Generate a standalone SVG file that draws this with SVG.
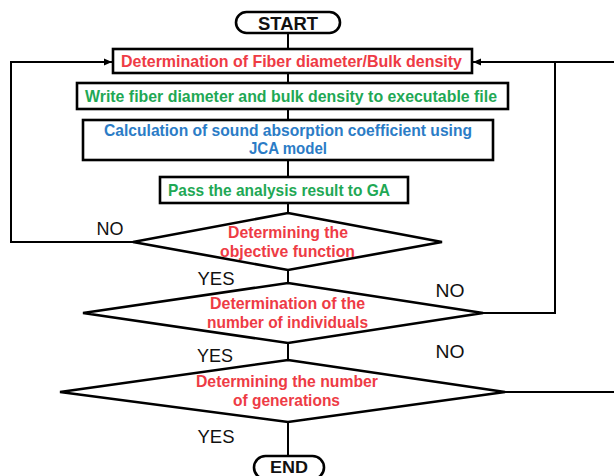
<svg xmlns="http://www.w3.org/2000/svg" width="614" height="476" viewBox="0 0 614 476">
  <style>
    .shape { fill: #ffffff; stroke: #000000; stroke-width: 2.6; }
    .conn { fill: none; stroke: #000000; stroke-width: 2; }
    .t { font-family: "Liberation Sans", Arial, sans-serif; font-weight: bold; text-anchor: middle; }
    .box { font-size: 16.5px; }
    .dia { font-size: 16px; }
    .red { fill: #ee3b45; }
    .green { fill: #1fa855; }
    .blue { fill: #2b7cc6; }
    .term { font-size: 19px; fill: #111111; }
    .lbl { font-family: "Liberation Sans", Arial, sans-serif; font-size: 18.5px; fill: #111111; text-anchor: middle; }
  </style>
  <defs>
    <marker id="arrow" markerUnits="userSpaceOnUse" markerWidth="8" markerHeight="8" refX="8" refY="4" orient="auto">
      <path d="M0,0.5 L8,4 L0,7.5 z" fill="#000000"/>
    </marker>
  </defs>
  <rect width="614" height="476" fill="#ffffff"/>

  <g id="connectors">
    <line class="conn" x1="288" y1="33" x2="288" y2="49"/>
    <line class="conn" x1="288" y1="73" x2="288" y2="83"/>
    <line class="conn" x1="288" y1="109" x2="288" y2="120"/>
    <line class="conn" x1="288" y1="160" x2="288" y2="177"/>
    <line class="conn" x1="288" y1="203" x2="288" y2="213"/>
    <line class="conn" x1="288" y1="270" x2="288" y2="283"/>
    <line class="conn" x1="288" y1="343" x2="288" y2="360"/>
    <line class="conn" x1="288" y1="422" x2="288" y2="456"/>
    <polyline class="conn" points="133,242 11,242 11,62 112,62" marker-end="url(#arrow)"/>
    <polyline class="conn" points="483,313 555,313 555,62"/>
    <polyline class="conn" points="614,62 473,62" marker-end="url(#arrow)"/>
    <line class="conn" x1="505" y1="392" x2="614" y2="392"/>
  </g>

  <g id="start">
    <rect class="shape" x="236" y="12" width="104" height="21" rx="10.5"/>
    <text class="t term" x="288" y="29.5" textLength="60" lengthAdjust="spacingAndGlyphs">START</text>
  </g>

  <g id="box1">
    <rect class="shape" x="113" y="49" width="359" height="24"/>
    <text class="t box red" x="291.5" y="66.5" textLength="341" lengthAdjust="spacingAndGlyphs">Determination of Fiber diameter/Bulk density</text>
  </g>

  <g id="box2">
    <rect class="shape" x="77" y="83" width="431" height="26"/>
    <text class="t box green" x="291" y="101.5" textLength="412" lengthAdjust="spacingAndGlyphs">Write fiber diameter and bulk density to executable file</text>
  </g>

  <g id="box3">
    <rect class="shape" x="83" y="120" width="410" height="40"/>
    <text class="t box blue" x="288" y="136" textLength="368" lengthAdjust="spacingAndGlyphs">Calculation of sound absorption coefficient using</text>
    <text class="t box blue" x="288" y="154" textLength="78" lengthAdjust="spacingAndGlyphs">JCA model</text>
  </g>

  <g id="box4">
    <rect class="shape" x="160" y="177" width="248" height="26"/>
    <text class="t box green" x="279" y="195.5" textLength="222" lengthAdjust="spacingAndGlyphs">Pass the analysis result to GA</text>
  </g>

  <g id="decision1">
    <polygon class="shape" points="288,213 442,242 288,270 133,242"/>
    <text class="t dia red" x="288" y="238" textLength="120" lengthAdjust="spacingAndGlyphs">Determining the</text>
    <text class="t dia red" x="287.5" y="257" textLength="135" lengthAdjust="spacingAndGlyphs">objective function</text>
  </g>

  <g id="decision2">
    <polygon class="shape" points="288,283 483,313 288,343 83,313"/>
    <text class="t dia red" x="287.5" y="309" textLength="155" lengthAdjust="spacingAndGlyphs">Determination of the</text>
    <text class="t dia red" x="287.5" y="328" textLength="161" lengthAdjust="spacingAndGlyphs">number of individuals</text>
  </g>

  <g id="decision3">
    <polygon class="shape" points="288,360 505,392 288,422 60,392"/>
    <text class="t dia red" x="287" y="387" textLength="182" lengthAdjust="spacingAndGlyphs">Determining the number</text>
    <text class="t dia red" x="286.5" y="406" textLength="107" lengthAdjust="spacingAndGlyphs">of generations</text>
  </g>

  <g id="end">
    <rect class="shape" x="254" y="456" width="70" height="23" rx="11.5"/>
    <text class="t term" style="font-size:17px" x="289" y="472.5" textLength="38" lengthAdjust="spacingAndGlyphs">END</text>
  </g>

  <g id="labels">
    <text class="lbl" x="110" y="235" textLength="27" lengthAdjust="spacingAndGlyphs">NO</text>
    <text class="lbl" x="216" y="285" textLength="37" lengthAdjust="spacingAndGlyphs">YES</text>
    <text class="lbl" x="450" y="297" textLength="29" lengthAdjust="spacingAndGlyphs">NO</text>
    <text class="lbl" x="215" y="362" textLength="36" lengthAdjust="spacingAndGlyphs">YES</text>
    <text class="lbl" x="450" y="358" textLength="29" lengthAdjust="spacingAndGlyphs">NO</text>
    <text class="lbl" x="216" y="443" textLength="37" lengthAdjust="spacingAndGlyphs">YES</text>
  </g>
</svg>
